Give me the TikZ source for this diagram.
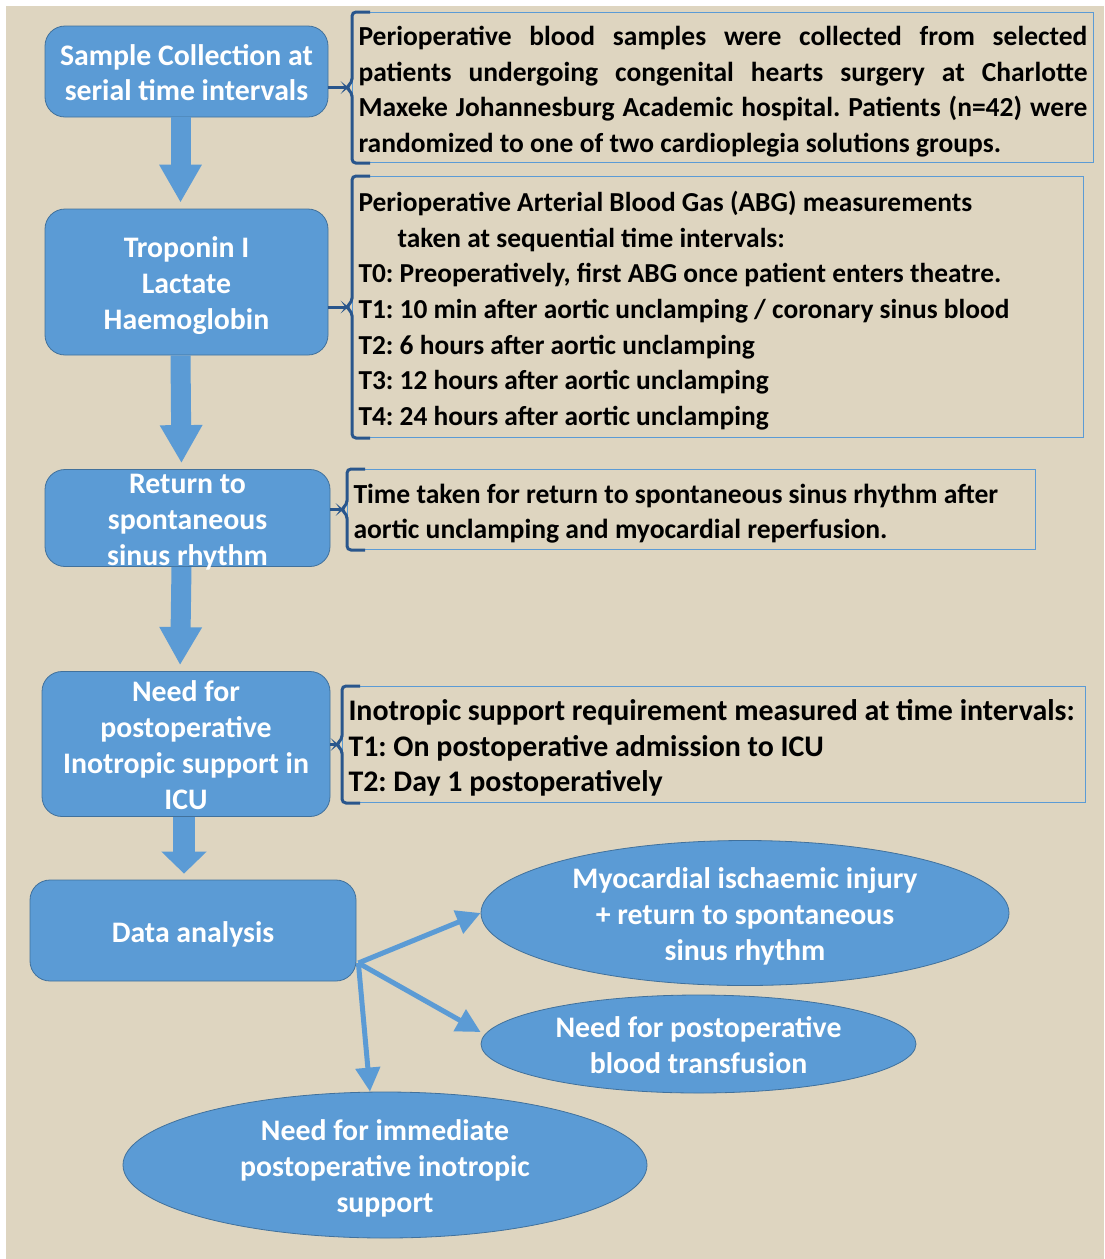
\documentclass[tikz,border=0pt]{standalone}
\usepackage{fontspec}
\setmainfont{Carlito}
\usetikzlibrary{arrows.meta,shapes.geometric}
\definecolor{paper}{RGB}{222,213,192}
\definecolor{boxblue}{RGB}{91,155,213}
\definecolor{boxedge}{RGB}{65,113,156}
\definecolor{bracecol}{RGB}{41,86,140}
\newcommand{\topstrut}{\rule{0pt}{33pt}}
\newcommand{\botstrut}{\rule[-10pt]{0pt}{10pt}}
\frenchspacing
\tikzset{
  txt/.style={font=\bfseries\fontsize{#1}{35.7}\selectfont,
    execute at begin node=\topstrut, execute at end node=\botstrut},
  stage/.style={txt=29.8, rounded corners=20pt, fill=boxblue, draw=boxedge, line width=0.8pt,
    text=white, align=flush center, text width=270pt, inner sep=0pt},
  outcome/.style={txt=29.8, ellipse, fill=boxblue, draw=boxedge, line width=0.8pt,
    text=white, align=flush center, text width=#1, inner sep=-8pt},
  note/.style={txt=#1, draw=boxblue, line width=1pt, anchor=north west, align=flush left,
    inner xsep=6pt, inner ysep=0pt},
  fatarrow/.style={draw=boxblue, line width=20pt, -{Triangle[width=40pt,length=38pt]}, shorten >=6pt},
  thinarrow/.style={draw=boxblue, line width=5pt, -{Triangle[width=24pt,length=24pt]}},
  bracket/.style={draw=bracecol, line width=3pt, rounded corners=4pt}
}
\begin{document}
\begin{tikzpicture}[x=1pt,y=-1pt]
  \useasboundingbox (0,0) rectangle (1104,1259);
  \fill[white] (0,0) rectangle (1104,1259);
  \fill[paper] (6,6) rectangle (1104,1259);

  % left column
  \node[stage, minimum width=283pt, minimum height=91pt] (S1) at (186.5,71.5) {Sample Collection at\\serial time intervals};
  \node[stage, minimum width=283pt, minimum height=146pt] (S2) at (186.5,282) {Troponin I\\Lactate\\Haemoglobin};
  \node[stage, minimum width=285pt, minimum height=97pt, inner ysep=-9pt] (S3) at (187.5,518) {Return to\\spontaneous\\sinus rhythm};
  \node[stage, minimum width=288pt, minimum height=145pt, inner ysep=-3pt] (S4) at (186,744) {Need for\\postoperative\\Inotropic support in\\ICU};
  \node[stage, minimum width=326pt, minimum height=101pt] (DA) at (193,930.5) {Data analysis};

  % right column
  \node[note=27.5, align=justify, text width=729pt, minimum height=150pt] (R1) at (352,12)
    {Perioperative blood samples were collected from selected\linebreak
     patients undergoing congenital hearts surgery at Charlotte\linebreak
     Maxeke Johannesburg Academic hospital. Patients (n=42) were\linebreak
     randomized to one of two cardioplegia solutions groups.};
  \node[note=27.4, text width=719pt, minimum height=261pt] (R2) at (352,176)
    {Perioperative Arterial Blood Gas (ABG) measurements\\
     \hspace*{39pt}taken at sequential time intervals:\\
     T0: Preoperatively, first ABG once patient enters theatre.\\
     T1: 10 min after aortic unclamping / coronary sinus blood\\
     T2: 6 hours after aortic unclamping\\
     T3: 12 hours after aortic unclamping\\
     T4: 24 hours after aortic unclamping};
  \node[note=27.6, text width=676pt, minimum height=80pt] (R3) at (347,469)
    {Time taken for return to spontaneous sinus rhythm after\\
     aortic unclamping and myocardial reperfusion.};
  \node[note=29.9, text width=731pt, minimum height=116pt] (R4) at (342,686)
    {Inotropic support requirement measured at time intervals:\\
     T1: On postoperative admission to ICU\\
     T2: Day 1 postoperatively};

  % braces
  \foreach \s/\r in {S1/R1,S2/R2,S3/R3,S4/R4}{
    \draw[bracket] ([xshift=18pt]\r.north west) -- (\r.north west) -- ([yshift=5pt]\r.west)
      -- ([xshift=-6pt]\r.west) -- ([yshift=-5pt]\r.west) -- (\r.south west) -- ([xshift=18pt]\r.south west);
    \draw[bracecol, line width=3pt] (\s.east |- \r.west) -- ([xshift=-6pt]\r.west);
  }

  % down arrows
  \draw[fatarrow] ([xshift=-6pt]S1.south) -- ([xshift=-6pt]S2.north);
  \draw[fatarrow] ([xshift=-6pt]S2.south) -- ([xshift=-6pt]S3.north);
  \draw[fatarrow] ([xshift=-6pt]S3.south) -- ([xshift=-6pt]S4.north);
  \draw[fatarrow, line width=22pt, -{Triangle[width=44pt,length=22pt]}] ([xshift=-2pt]S4.south) -- ([xshift=-9pt]DA.north);

  % outcomes
  \node[outcome=380pt, inner xsep=-25pt, minimum width=528pt, minimum height=145pt] (E1) at (745,913) {Myocardial ischaemic injury\\+ return to spontaneous\\sinus rhythm};
  \node[outcome=300pt, minimum width=435pt, minimum height=98pt] (E2) at (698.5,1044) {Need for postoperative\\blood transfusion};
  \node[outcome=300pt, minimum width=524pt, minimum height=146pt] (E3) at (385,1165) {Need for immediate\\postoperative inotropic\\support};

  \coordinate (fork) at ([xshift=2pt,yshift=-32.5pt]DA.east);
  \draw[thinarrow] (fork) -- (E1.west);
  \draw[thinarrow] (fork) -- ([yshift=12pt]E2.west);
  \draw[thinarrow] (fork) -- ([xshift=-15pt]E3.north);
\end{tikzpicture}
\end{document}
